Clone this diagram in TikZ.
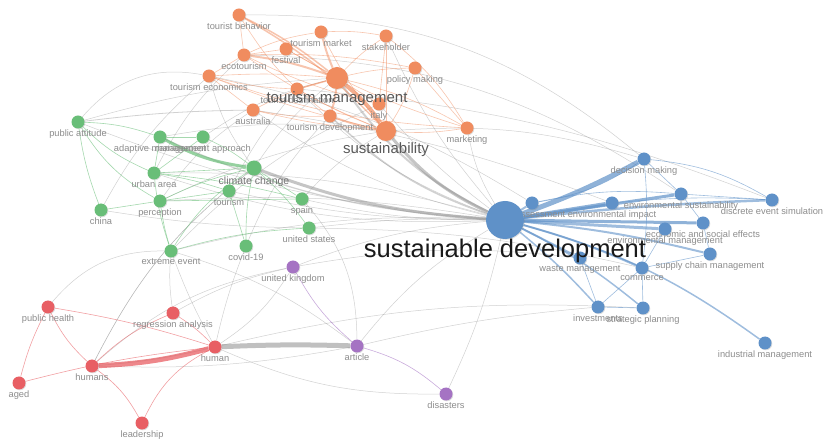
\documentclass[tikz,border=0pt]{standalone}
\usepackage{fontspec}
\setmainfont{Liberation Sans}
\usetikzlibrary{backgrounds,shadows}

\definecolor{vorange}{RGB}{240,140,95}
\definecolor{vgreen}{RGB}{105,190,120}
\definecolor{vblue}{RGB}{95,145,200}
\definecolor{vred}{RGB}{232,95,100}
\definecolor{vpurple}{RGB}{165,115,195}
\definecolor{edgegray}{RGB}{140,140,140}
\definecolor{lblgray}{RGB}{140,140,140}

\tikzset{
	kw/.style = {circle, fill = #1, inner sep = 0pt, minimum size = 13pt,
		drop shadow = {shadow xshift = 0.8pt, shadow yshift = -0.8pt, opacity = 0.25}},
	lbl/.style = {text = lblgray, font = \fontsize{9.3}{9.3}\selectfont, inner sep = 1pt},
	big/.style = {text = black!65, font = \fontsize{15}{15}\selectfont, inner sep = 1pt},
	ge/.style = {draw = edgegray, opacity = 0.4, line width = 0.5pt},
	oe/.style = {draw = vorange, opacity = 0.5, line width = 0.6pt},
	gre/.style = {draw = vgreen, opacity = 0.6, line width = 0.6pt},
	be/.style = {draw = vblue, opacity = 0.6, line width = 0.6pt},
	re/.style = {draw = vred, opacity = 0.6, line width = 0.6pt},
	pe/.style = {draw = vpurple, opacity = 0.6, line width = 0.6pt},
	w/.style = {line width = #1}
}

\begin{document}
\begin{tikzpicture}[x = 1pt, y = -1pt]
	\useasboundingbox (0, 0) rectangle (825, 446);

	% tourism cluster
	\node[kw = vorange, label = {[lbl]below:tourist behavior}] (tbeh) at (239, 15) {};
	\node[kw = vorange, label = {[lbl]below:tourism market}] (tmkt) at (321, 32) {};
	\node[kw = vorange, label = {[lbl]below:stakeholder}] (stak) at (386, 36) {};
	\node[kw = vorange, label = {[lbl]below:festival}] (fest) at (286, 49) {};
	\node[kw = vorange, label = {[lbl]below:ecotourism}] (eco) at (244, 55) {};
	\node[kw = vorange, label = {[lbl]below:tourism economics}] (tecon) at (209, 76) {};
	\node[kw = vorange, label = {[lbl]below:policy making}] (pol) at (415, 68) {};
	\node[kw = vorange, label = {[lbl]below:tourist destination}] (tdest) at (297, 89) {};
	\node[kw = vorange, label = {[lbl]below:italy}] (italy) at (379, 104) {};
	\node[kw = vorange, label = {[lbl]below:australia}] (aus) at (253, 110) {};
	\node[kw = vorange, label = {[lbl]below:tourism development}] (tdev) at (330, 116) {};
	\node[kw = vorange, label = {[lbl]below:marketing}] (mkt) at (467, 128) {};
	\node[kw = vorange, minimum size = 22pt, label = {[big, label distance = 1pt]below:tourism management}] (tm) at (337, 78) {};
	\node[kw = vorange, minimum size = 20pt, label = {[big, label distance = 0pt]below:sustainability}] (sus) at (386, 131) {};

	% climate cluster
	\node[kw = vgreen, label = {[lbl]below:public attitude}] (pa) at (78, 122) {};
	\node[kw = vgreen, label = {[lbl]below:adaptive management}] (adm) at (160, 137) {};
	\node[kw = vgreen, label = {[lbl]below:management approach}] (map) at (203, 137) {};
	\node[kw = vgreen, label = {[lbl]below:urban area}] (urb) at (154, 173) {};
	\node[kw = vgreen, label = {[lbl]below:tourism}] (tour) at (229, 191) {};
	\node[kw = vgreen, label = {[lbl]below:perception}] (perc) at (160, 201) {};
	\node[kw = vgreen, label = {[lbl]below:spain}] (spain) at (302, 199) {};
	\node[kw = vgreen, label = {[lbl]below:china}] (china) at (101, 210) {};
	\node[kw = vgreen, label = {[lbl]below:united states}] (us) at (309, 228) {};
	\node[kw = vgreen, label = {[lbl]below:extreme event}] (ext) at (171, 251) {};
	\node[kw = vgreen, label = {[lbl]below:covid-19}] (covid) at (246, 246) {};
	\node[kw = vgreen, minimum size = 15pt, label = {[big, text = black!55, font = \fontsize{10.5}{10.5}\selectfont, label distance = 0pt]below:climate change}] (cc) at (254, 168) {};

	% purple cluster
	\node[kw = vpurple, label = {[lbl]below:united kingdom}] (uk) at (293, 267) {};
	\node[kw = vpurple, label = {[lbl]below:article}] (art) at (357, 346) {};
	\node[kw = vpurple, label = {[lbl]below:disasters}] (dis) at (446, 394) {};

	% health cluster
	\node[kw = vred, label = {[lbl]below:public health}] (ph) at (48, 307) {};
	\node[kw = vred, label = {[lbl]below:regression analysis}] (reg) at (173, 313) {};
	\node[kw = vred, label = {[lbl]below:human}] (human) at (215, 347) {};
	\node[kw = vred, label = {[lbl]below:humans}] (humans) at (92, 366) {};
	\node[kw = vred, label = {[lbl]below:aged}] (aged) at (19, 383) {};
	\node[kw = vred, label = {[lbl]below:leadership}] (lead) at (142, 423) {};

	% development cluster
	\node[kw = vblue, label = {[lbl]below:risk assessment}] (ra) at (532, 203) {};
	\node[kw = vblue, label = {[lbl]below:environmental impact}] (eimp) at (612, 203) {};
	\node[kw = vblue, label = {[lbl]below:decision making}] (dm) at (644, 159) {};
	\node[kw = vblue, label = {[lbl]below:environmental sustainability}] (esus) at (681, 194) {};
	\node[kw = vblue, label = {[lbl]below:discrete event simulation}] (des) at (772, 200) {};
	\node[kw = vblue, label = {[lbl]below:economic and social effects}] (ess) at (703, 223) {};
	\node[kw = vblue, label = {[lbl]below:environmental management}] (emgmt) at (665, 229) {};
	\node[kw = vblue, label = {[lbl]below:supply chain management}] (scm) at (710, 254) {};
	\node[kw = vblue, label = {[lbl]below:waste management}] (waste) at (580, 258) {};
	\node[kw = vblue, label = {[lbl]below:commerce}] (comm) at (642, 268) {};
	\node[kw = vblue, label = {[lbl]below:investments}] (inv) at (598, 307) {};
	\node[kw = vblue, label = {[lbl]below:strategic planning}] (strat) at (643, 308) {};
	\node[kw = vblue, label = {[lbl]below:industrial management}] (indm) at (765, 343) {};
	\node[kw = vblue, minimum size = 38pt, label = {[big, text = black!90, font = \fontsize{25.5}{25.5}\selectfont, label distance = -1pt]below:sustainable development}] (sd) at (505, 220) {};

	\begin{pgfonlayer}{background}
	% links between clusters
	\draw[ge, w = 5pt, opacity = 0.55] (human) to[bend left = 2] (art);
	\draw[ge, w = 3pt, opacity = 0.5] (sd) to[bend left = 12] (sus);
	\draw[ge, w = 3pt, opacity = 0.5] (sd) to[bend left = 8] (cc);
	\draw[ge, w = 2pt] (sd) to[bend left = 14] (tm);
	\draw[ge, w = 1.5pt] (sd) to[bend left = 12] (tdev);
	\draw[ge, w = 1.2pt] (sd) to[bend left = 10] (adm);
	\draw[ge] (sd) to[bend left = 10] (urb);
	\draw[ge] (sd) to[bend left = 8] (pa);
	\draw[ge] (sd) to[bend left = 6] (tour);
	\draw[ge] (sd) to[bend left = 6] (spain);
	\draw[ge] (sd) to[bend right = 4] (us);
	\draw[ge] (sd) to[bend left = 10] (mkt);
	\draw[ge] (sd) to[bend left = 12] (tdest);
	\draw[ge] (sd) to[bend left = 10] (aus);
	\draw[ge] (sd) to[bend left = 8] (stak);
	\draw[ge] (sd) to[bend left = 6] (italy);
	\draw[ge] (sd) to[bend right = 8] (ext);
	\draw[ge] (sd) to[bend right = 10] (art);
	\draw[ge] (sd) to[bend left = 6] (dis);
	\draw[ge] (sd) to[bend right = 8] (uk);
	\draw[ge] (sd) to[bend right = 6] (perc);
	\draw[ge] (pa) to[bend left = 30] (tecon);
	\draw[ge, w = 0.8pt] (pa) to[bend left = 3] (aus);
	\draw[ge] (pa) to[bend left = 6] (tm);
	\draw[ge] (tbeh) to[bend left = 20] (dm);
	\draw[ge] (eco) to[bend left = 16] (esus);
	\draw[ge] (tecon) to[bend left = 10] (ra);
	\draw[ge] (tdest) to[bend left = 8] (des);
	\draw[ge] (aus) to[bend left = 6] (eimp);
	\draw[ge] (sus) to[bend left = 10] (dm);
	\draw[ge] (tecon) to[bend right = 10] (cc);
	\draw[ge] (eco) to[bend right = 10] (urb);
	\draw[ge] (aus) to[bend right = 10] (perc);
	\draw[ge] (tdest) to[bend right = 6] (tour);
	\draw[ge] (tm) to[bend right = 8] (cc);
	\draw[ge] (tm) to[bend right = 10] (map);
	\draw[ge] (sus) to[bend right = 8] (spain);
	\draw[ge] (sus) to[bend right = 8] (adm);
	\draw[ge] (tdev) to[bend right = 10] (covid);
	\draw[ge] (italy) to[bend right = 10] (ext);
	\draw[ge] (cc) to[bend right = 12] (humans);
	\draw[ge] (ph) to[bend left = 25] (ext);
	\draw[ge] (humans) to[bend left = 15] (uk);
	\draw[ge] (humans) to[bend left = 12] (cc);
	\draw[ge, w = 0.8pt] (humans) to[bend right = 4] (human);
	\draw[ge] (human) to[bend right = 12] (uk);
	\draw[ge] (reg) to[bend left = 8] (uk);
	\draw[ge] (reg) to[bend left = 6] (ext);
	\draw[ge] (ext) to[bend left = 10] (art);
	\draw[ge] (covid) to[bend right = 4] (human);
	\draw[ge] (ext) to[bend right = 4] (human);
	\draw[ge] (human) to[bend right = 12] (dis);
	\draw[ge] (humans) to[bend right = 6] (art);
	\draw[ge] (art) to[bend left = 4] (inv);
	\draw[ge] (human) to[bend left = 8] (strat);
	\draw[ge] (uk) to[bend left = 8] (waste);
	\draw[ge] (us) to[bend left = 6] (comm);
	\draw[ge] (china) to[bend right = 4] (us);
	\draw[ge] (china) to[bend left = 10] (tecon);
	\draw[ge] (perc) to[bend left = 8] (sus);
	\draw[ge] (urb) to[bend left = 8] (sd);
	\draw[ge] (spain) to[bend left = 20] (art);

	% tourism cluster links
	\draw[oe, w = 4pt, opacity = 0.7] (tm) to[bend left = 8] (sus);
	\draw[oe, w = 2pt] (tm) to[bend right = 6] (eco);
	\draw[oe, w = 2pt] (tm) to[bend left = 4] (tmkt);
	\draw[oe, w = 2pt] (tm) to[bend left = 6] (tdev);
	\draw[oe, w = 1.5pt] (tm) to[bend right = 6] (tbeh);
	\draw[oe] (tm) to[bend left = 6] (stak);
	\draw[oe] (tm) to (fest);
	\draw[oe] (tm) to[bend right = 4] (tecon);
	\draw[oe] (tm) to[bend left = 6] (pol);
	\draw[oe, w = 1.5pt] (tm) to (tdest);
	\draw[oe] (tm) to (italy);
	\draw[oe] (tm) to[bend right = 6] (aus);
	\draw[oe] (tm) to[bend left = 8] (mkt);
	\draw[oe, w = 1.5pt] (sus) to[bend right = 8] (tbeh);
	\draw[oe] (sus) to[bend left = 6] (tmkt);
	\draw[oe] (sus) to (stak);
	\draw[oe] (sus) to[bend left = 6] (eco);
	\draw[oe] (sus) to[bend left = 4] (tecon);
	\draw[oe] (sus) to[bend right = 8] (pol);
	\draw[oe] (sus) to[bend left = 4] (tdest);
	\draw[oe] (sus) to[bend right = 6] (mkt);
	\draw[oe] (sus) to[bend left = 4] (aus);
	\draw[oe, w = 2pt] (sus) to[bend left = 4] (tdev);
	\draw[oe] (tbeh) to (eco);
	\draw[oe] (tbeh) to[bend right = 10] (tdev);
	\draw[oe] (eco) to (tecon);
	\draw[oe] (eco) to (fest);
	\draw[oe] (eco) to[bend left = 6] (pol);
	\draw[oe] (tecon) to[bend right = 6] (tdest);
	\draw[oe] (tecon) to[bend right = 8] (mkt);
	\draw[oe] (tecon) to (aus);
	\draw[oe] (stak) to (italy);
	\draw[oe] (stak) to[bend left = 10] (mkt);
	\draw[oe] (pol) to (mkt);
	\draw[oe] (tmkt) to[bend left = 6] (stak);
	\draw[oe] (tmkt) to[bend right = 8] (eco);
	\draw[oe] (fest) to[bend right = 6] (mkt);
	\draw[oe] (eco) to[bend right = 6] (italy);
	\draw[oe] (aus) to[bend right = 6] (tdev);

	% climate cluster links
	\draw[gre, w = 3pt, opacity = 0.7] (adm) to[bend right = 10] (cc);
	\draw[gre] (adm) to (map);
	\draw[gre] (pa) to[bend left = 8] (adm);
	\draw[gre] (pa) to[bend right = 10] (urb);
	\draw[gre] (pa) to[bend right = 6] (china);
	\draw[gre] (pa) to[bend right = 14] (perc);
	\draw[gre] (urb) to (cc);
	\draw[gre] (urb) to[bend left = 4] (spain);
	\draw[gre] (urb) to[bend left = 4] (tour);
	\draw[gre] (urb) to[bend right = 6] (ext);
	\draw[gre] (perc) to (spain);
	\draw[gre] (perc) to (tour);
	\draw[gre] (perc) to[bend right = 4] (ext);
	\draw[gre] (perc) to (china);
	\draw[gre] (perc) to[bend left = 6] (cc);
	\draw[gre] (ext) to[bend left = 6] (us);
	\draw[gre] (ext) to[bend left = 12] (cc);
	\draw[gre] (tour) to (covid);
	\draw[gre] (covid) to[bend left = 6] (cc);
	\draw[gre] (cc) to (spain);
	\draw[gre] (cc) to[bend left = 6] (us);
	\draw[gre] (map) to (urb);
	\draw[gre] (map) to[bend left = 6] (cc);
	\draw[gre] (adm) to (urb);

	% health and purple cluster links
	\draw[re, w = 5pt, opacity = 0.75] (humans) to[bend right = 6] (human);
	\draw[re] (ph) to[bend right = 10] (humans);
	\draw[re] (ph) to[bend right = 6] (aged);
	\draw[re] (ph) to[bend left = 4] (human);
	\draw[re] (aged) to[bend left = 4] (human);
	\draw[re] (humans) to[bend left = 12] (lead);
	\draw[re] (lead) to[bend left = 18] (human);
	\draw[re] (reg) to[bend left = 6] (human);
	\draw[re] (reg) to[bend right = 10] (humans);
	\draw[pe] (uk) to[bend right = 10] (art);
	\draw[pe] (art) to[bend left = 12] (dis);

	% development cluster links
	\draw[be, w = 5pt, opacity = 0.7] (sd) to[bend right = 4] (dm);
	\draw[be, w = 4pt, opacity = 0.7] (sd) to (eimp);
	\draw[be, w = 3pt, opacity = 0.7] (sd) to (esus);
	\draw[be, w = 2.5pt] (sd) to[bend left = 2] (des);
	\draw[be, w = 3pt, opacity = 0.7] (sd) to (ess);
	\draw[be, w = 3pt] (sd) to (emgmt);
	\draw[be, w = 2pt] (sd) to[bend left = 4] (scm);
	\draw[be, w = 2pt] (sd) to (waste);
	\draw[be, w = 2pt] (sd) to[bend left = 4] (comm);
	\draw[be, w = 1.5pt] (sd) to[bend left = 4] (inv);
	\draw[be, w = 1.5pt] (sd) to[bend left = 6] (strat);
	\draw[be, w = 1.5pt] (sd) to[bend left = 10] (indm);
	\draw[be, w = 2pt] (sd) to (ra);
	\draw[be] (dm) to[bend left = 12] (des);
	\draw[be] (dm) to (esus);
	\draw[be] (esus) to (des);
	\draw[be] (eimp) to[bend left = 4] (des);
	\draw[be] (ra) to[bend left = 8] (esus);
	\draw[be] (ra) to[bend right = 12] (dm);
	\draw[be] (comm) to (inv);
	\draw[be] (comm) to (strat);
	\draw[be] (inv) to (strat);
	\draw[be] (waste) to (inv);
	\draw[be] (scm) to (comm);
	\draw[be] (emgmt) to (comm);
	\draw[be] (ess) to (scm);
	\draw[be] (esus) to (ess);
	\draw[be] (dm) to[bend left = 6] (comm);
	\end{pgfonlayer}
\end{tikzpicture}
\end{document}
